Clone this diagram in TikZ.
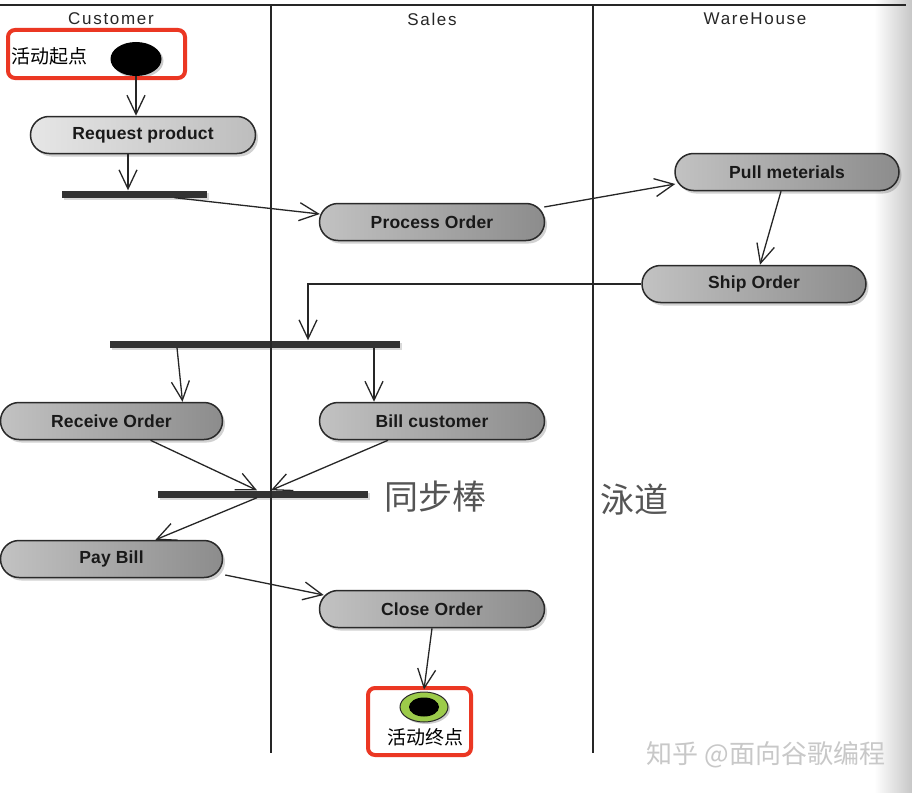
\documentclass[tikz,border=0pt]{standalone}
\usepackage{fontspec}
\setmainfont{Liberation Sans}
\newfontfamily\cjk{Noto Sans CJK SC}
\newfontfamily\lanefont[LetterSpace=10]{Liberation Sans}
\newfontfamily\actfont[LetterSpace=1]{Liberation Sans}
\usetikzlibrary{arrows.meta,shapes.misc,shapes.geometric,shadows,calc}

\definecolor{edge}{HTML}{2A2A2A}
\definecolor{actL}{HTML}{C2C2C2}
\definecolor{actR}{HTML}{8C8C8C}
\definecolor{reqL}{HTML}{E6E6E6}
\definecolor{reqR}{HTML}{BDBDBD}
\definecolor{barc}{HTML}{333333}
\definecolor{markred}{RGB}{235,55,35}
\definecolor{finalgreen}{HTML}{9CCB4A}
\definecolor{notegray}{HTML}{555555}
\definecolor{wmgray}{HTML}{C8C8C8}

\tikzset{
  act/.style={rounded rectangle, draw=edge, line width=1.5pt,
    minimum width=225pt, minimum height=37pt, inner sep=0pt,
    left color=actL, right color=actR, text=black!90,
    font=\actfont\bfseries\fontsize{17.5}{20}\selectfont,
    drop shadow={shadow xshift=2.5pt, shadow yshift=-3pt, opacity=0.18, fill=black}},
  firstact/.style={act, left color=reqL, right color=reqR},
  syncbar/.style={rectangle, fill=barc, inner sep=0pt, minimum height=7pt,
    drop shadow={shadow xshift=2pt, shadow yshift=-2pt, opacity=0.15, fill=black}},
  arr/.style={-{Straight Barb[length=19pt,width=18pt]}, line width=1.3pt, draw=black!85},
  lane/.style={line width=1.5pt, draw=black!85},
  lanetitle/.style={font=\lanefont\fontsize{17}{20}\selectfont, text=black!85},
  cjklabel/.style={font=\cjk\fontsize{19}{22}\selectfont, text=black},
  note/.style={font=\cjk\fontsize{34}{40}\selectfont, text=notegray},
  markbox/.style={draw=markred, line width=4pt, rounded corners=7pt}
}

\begin{document}
\begin{tikzpicture}[x=1pt, y=-1pt]
\useasboundingbox (0,0) rectangle (912,792);
\fill[white] (0,0) rectangle (912,792);
% page edge shading on the right
\shade[left color=white, right color=black!22] (874,0) rectangle (912,792);

% swimlanes
\draw[lane] (0,5) -- (906,5);
\node[lanetitle] (hcust) at (111,19) {Customer};
\node[lanetitle] (hsales) at (432,19) {Sales};
\node[lanetitle] (hware) at (755,19) {WareHouse};

% start state
\node[ellipse, fill=black, minimum width=51pt, minimum height=34pt, inner sep=0pt,
  drop shadow={shadow xshift=2pt, shadow yshift=-2pt, opacity=0.2, fill=black}] (start) at (136,59) {};
\node[cjklabel] (lblstart) at (50,56) {活动起点};
\draw[markbox] (8,30) rectangle (185,78);

% activities
\node[firstact] (reqp) at (143,135) {Request product};
\node[act] (proc) at (432,222) {Process Order};
\node[act, minimum width=224pt] (pull) at (787,172) {Pull meterials};
\node[act, minimum width=224pt] (ship) at (754,284) {Ship Order};
\node[act, minimum width=222pt] (recv) at (111.5,421) {Receive Order};
\node[act] (bill) at (432,421) {Bill customer};
\node[act, minimum width=222pt] (pay) at (111.5,559) {Pay Bill};
\node[act] (close) at (432,609) {Close Order};

% synchronisation bars
\node[syncbar, minimum width=145pt] (bar1) at (134.5,194) {};
\node[syncbar, minimum width=290pt] (bar2) at (255,344) {};
\node[syncbar, minimum width=210pt] (bar3) at (263,494) {};

% lane separators run over the bars
\draw[lane] (271,5) -- (271,753);
\draw[lane] (593,5) -- (593,753);

% final state
\node[ellipse, draw=edge, line width=1pt, fill=finalgreen, minimum width=48pt, minimum height=30pt, inner sep=0pt,
  drop shadow={shadow xshift=2pt, shadow yshift=-2pt, opacity=0.2, fill=black}] (endn) at (424,707) {};
\node[ellipse, fill=black, minimum width=30pt, minimum height=19pt, inner sep=0pt] (endcore) at (424,707) {};
\node[cjklabel] (lblend) at (425,737) {活动终点};
\draw[markbox] (368,688) rectangle (471,755);

% flows
\draw[arr] (start.south) -- (start.south |- reqp.north);
\draw[arr] ([xshift=-15pt]reqp.south) -- ([xshift=-15pt]reqp.south |- bar1.north);
\draw[arr] ([xshift=40pt]bar1.south) -- ([yshift=8pt,xshift=1pt]proc.west);
\draw[arr] ([yshift=15pt,xshift=-1pt]proc.east) -- ([yshift=-12pt,xshift=1pt]pull.west);
\draw[arr] ([xshift=-6pt]pull.south) -- ([xshift=6pt]ship.north);
\draw[arr] (ship.west) -| ([xshift=53pt]bar2.north);
\draw[arr] ([xshift=-78pt]bar2.south) -- ([xshift=71pt]recv.north);
\draw[arr] ([xshift=119pt]bar2.south) -- ([xshift=-58pt]bill.north);
\draw[arr] ([xshift=39pt]recv.south) -- ([xshift=-6pt]bar3.north);
\draw[arr] ([xshift=-44pt]bill.south) -- ([xshift=8pt]bar3.north);
\draw[arr] ([xshift=-6pt]bar3.south) -- ([xshift=44pt]pay.north);
\draw[arr] ([yshift=-16pt,xshift=2pt]pay.east) -- ([yshift=14pt,xshift=5pt]close.west);
\draw[arr] (close.south) -- ([yshift=2pt]endn.north);

% annotations
\node[note] (nbar) at (435,497) {同步棒};
\node[note] (nlane) at (634,500) {泳道};
\node[font=\cjk\fontsize{26}{30}\selectfont, text=wmgray] (wm) at (766,755) {知乎 @面向谷歌编程};
\end{tikzpicture}
\end{document}
